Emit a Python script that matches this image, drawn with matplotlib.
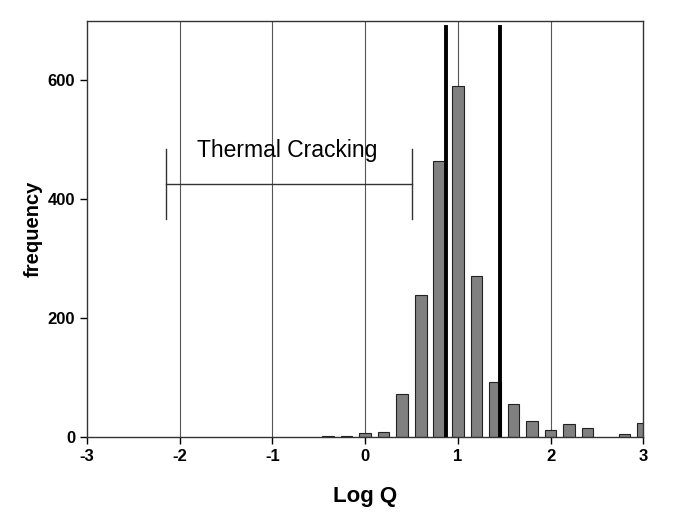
import matplotlib
matplotlib.use("Agg")
import matplotlib.pyplot as plt

plt.rcParams['font.family'] = ['Liberation Sans', 'DejaVu Sans']
plt.rcParams['axes.unicode_minus'] = False

# histogram of Log Q
bin_centers = [-0.4, -0.2, 0.0, 0.2, 0.4, 0.6, 0.8, 1.0, 1.2, 1.4, 1.6, 1.8, 2.0, 2.2, 2.4, 2.8, 3.0]
counts = [2, 2, 7, 8, 72, 239, 464, 591, 271, 93, 56, 27, 12, 22, 16, 5, 23]

# thick vertical markers
markers = [0.875, 1.46]

# thermal cracking range
tc_left, tc_right, tc_y, tc_cap = -2.15, 0.51, 426, 59
tc_label = "Thermal Cracking"

xticks = [-3, -2, -1, 0, 1, 2, 3]
yticks = [0, 200, 400, 600]

fig = plt.figure(figsize=(6.85, 5.26), dpi=100)
ax = fig.add_axes([0.127, 0.169, 0.812, 0.791])

for x in xticks[1:-1]:
    ax.axvline(x, color='#555555', lw=0.8, zorder=0)

ax.bar(bin_centers, counts, width=0.125, color='#808080', edgecolor='#222222', lw=0.8, zorder=2)

for m in markers:
    ax.plot([m, m], [0, 690], color='black', lw=2.8, zorder=3)

ax.plot([tc_left, tc_right], [tc_y, tc_y], color='#333333', lw=1.0, zorder=3)
for xe in (tc_left, tc_right):
    ax.plot([xe, xe], [tc_y - tc_cap, tc_y + tc_cap], color='#333333', lw=1.0, zorder=3)
ax.text(-0.84, 482, tc_label, fontsize=16.5, ha='center', va='center', zorder=4)

ax.set_xlim(-3, 3)
ax.set_ylim(0, 700)
ax.set_xticks(xticks)
ax.set_yticks(yticks)
ax.tick_params(direction='out', length=5, width=1, labelsize=12)
for lab in ax.get_xticklabels() + ax.get_yticklabels():
    lab.set_fontweight('bold')
for s in ax.spines.values():
    s.set_linewidth(1.0)
    s.set_color('#333333')

ax.set_xlabel("Log Q", fontsize=16, fontweight='bold', labelpad=16)
ax.set_ylabel("frequency", fontsize=14.5, fontweight='bold', labelpad=4)

fig.savefig("out.png", dpi=100)
